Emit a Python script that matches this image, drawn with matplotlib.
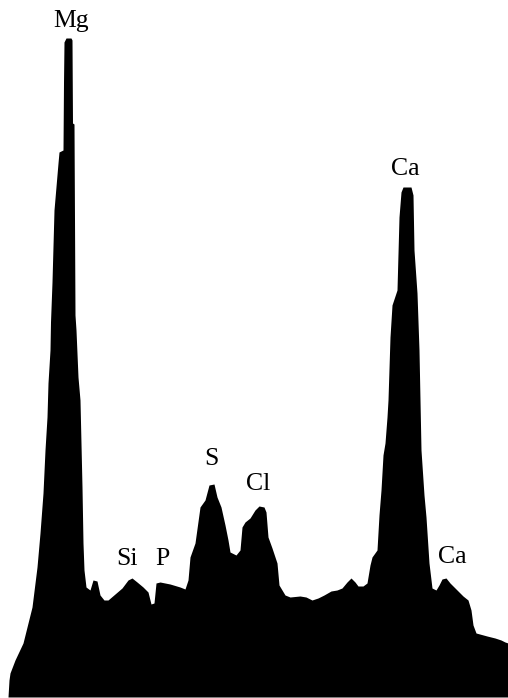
import matplotlib
matplotlib.use("Agg")
import matplotlib.pyplot as plt

# EDS spectrum silhouette: channel vs counts
channel = [8, 9, 10, 15, 23, 32, 37, 40, 43, 45, 47, 48, 50, 50.5, 52, 54, 58, 59, 63, 63.5,
           64, 66, 71, 72, 72.5, 74, 75, 76, 78, 80, 82, 83, 84, 86, 90, 93, 97, 100, 104, 108,
           115, 122, 128, 132, 137, 143, 148, 151, 154, 156, 160, 170, 180, 185, 188, 190, 195,
           200, 205, 209, 214, 217, 221, 225, 228, 230, 236, 240, 242, 245, 250, 255, 259, 264,
           266, 268, 272, 277, 279, 285, 290, 300, 306, 312, 318, 324, 331, 337, 342, 347, 351,
           355, 358, 363, 367, 370, 372, 377, 379, 381, 383, 385, 387, 388, 390, 392, 397, 399,
           401, 403, 411, 413, 414, 417, 419, 420, 421, 424, 426, 429, 432, 436, 439, 442, 446,
           450, 456, 463, 468, 471, 473, 476, 487, 495, 501, 505, 508]
counts = [0, 17, 24, 37, 54, 90, 130, 164, 204, 247, 280, 314, 347, 375, 415, 487, 534, 545, 547, 614,
          655, 659, 659, 657, 574, 573, 382, 367, 320, 297, 210, 154, 127, 110, 107, 117, 116, 102, 97, 97,
          103, 109, 117, 119, 115, 110, 105, 93, 94, 114, 115, 113, 110, 108, 117, 140, 154,
          190, 197, 212, 213, 200, 190, 172, 157, 145, 142, 147, 170, 175, 179, 187, 191, 190,
          185, 160, 149, 134, 112, 102, 100, 101, 100, 97, 99, 102, 106, 107, 109, 115, 119,
          115, 111, 111, 114, 132, 140, 147, 182, 207, 242, 254, 280, 297, 360, 392, 407, 480,
          505, 510, 510, 502, 447, 404, 347, 297, 247, 202, 180, 134, 109, 107, 112, 118, 119,
          114, 108, 101, 97, 87, 72, 64, 61, 59, 57, 55, 54]

labels = ["Mg", "Ca", "S", "Cl", "Si", "P", "Ca"]
label_x = [71, 405, 211, 258, 127, 162, 452]
label_y = [670, 522, 232, 207, 132, 132, 134]

fig = plt.figure(figsize=(5.08, 6.98), dpi=100)
ax = fig.add_axes([0, 0, 1, 1])
ax.fill_between(channel, counts, 0, color="black", linewidth=0)
for lab, lx, ly in zip(labels, label_x, label_y):
    ax.text(lx, ly, lab, ha="center", va="baseline", fontsize=18.5, family="Liberation Serif")
ax.set_xlim(0, 508)
ax.set_ylim(-1, 697)
ax.axis("off")
fig.savefig("out.png", dpi=100)
